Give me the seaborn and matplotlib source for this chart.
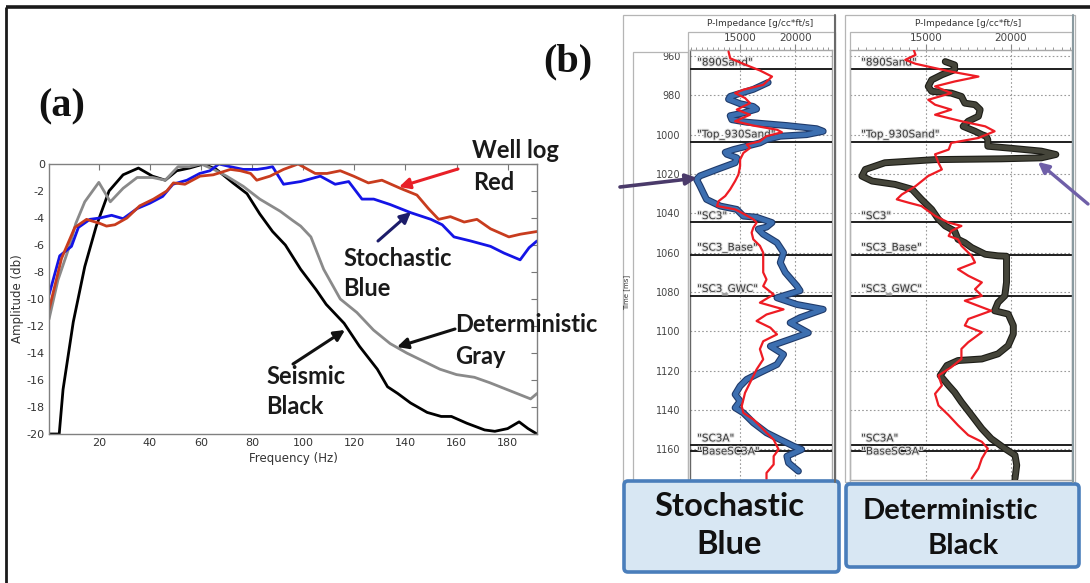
import matplotlib
matplotlib.use("Agg")
import matplotlib.pyplot as plt
import seaborn as sns
import numpy as np
from matplotlib.patches import Rectangle, FancyBboxPatch
from matplotlib.ticker import MultipleLocator
import matplotlib.patheffects as pe

# ---------------- data: panel (a) amplitude spectra ----------------
seis_f = [0.5, 4.5, 6, 10, 14.5, 19, 24, 29.5, 35.5, 41, 46, 50.5, 55.5, 61, 66, 72.5, 78, 83, 88, 93,
          99, 105, 109, 116, 122, 129, 133, 137, 142, 148.5, 154, 158, 164, 171, 175, 180, 184.5, 188, 191.5]
seis_a = [-20, -20, -16.7, -11.7, -7.6, -4.6, -2.0, -0.8, -0.3, -0.9, -1.2, -0.5, -0.3, 0.0, -0.4, -1.4,
          -2.2, -3.7, -5.0, -6.0, -7.8, -9.3, -10.4, -11.8, -13.5, -15.2, -16.5, -17.0, -17.7, -18.4,
          -18.7, -18.7, -19.2, -19.7, -19.8, -19.6, -19.1, -19.6, -20.0]

det_f = [0.5, 4, 8.5, 11, 14.5, 20, 24.5, 29.5, 35, 41, 46, 51, 55.5, 60, 65, 70, 76.5, 83, 91, 96,
         99, 103, 108, 114.5, 121, 127.5, 134, 140.5, 147, 153.5, 160, 167, 173, 181, 189, 191.5]
det_a = [-11.5, -8.6, -6.1, -4.4, -2.8, -1.36, -2.8, -1.8, -1.0, -1.0, -1.2, -0.2, -0.2, 0.0, -0.4, -0.9,
         -1.65, -2.6, -3.5, -4.2, -4.6, -5.4, -7.8, -10.0, -11.0, -12.3, -13.3, -14.0, -14.6, -15.2,
         -15.6, -15.8, -16.2, -16.8, -17.4, -17.0]

sto_f = [0.5, 4.7, 9.3, 12, 16.5, 20.4, 25, 29.5, 35, 40, 45, 49, 54.5, 59.5, 63.5, 67, 71.5, 76.5, 82,
         85.5, 88, 92.3, 99, 106.7, 112.5, 117.8, 123, 127.6, 134, 142, 150, 154.4, 159, 165.5, 173.3,
         178.6, 184.9, 188.4, 191.5]
sto_a = [-9.7, -6.8, -6.1, -4.7, -4.1, -4.0, -3.8, -4.05, -3.3, -2.9, -2.4, -1.5, -1.2, -0.7, -0.5, 0.0,
         -0.2, -0.4, -0.4, -0.3, -0.2, -1.5, -1.3, -0.9, -1.5, -1.3, -2.6, -2.6, -3.0, -3.6, -4.1, -4.5,
         -5.4, -5.7, -6.1, -6.6, -7.1, -6.2, -5.7]

well_f = [0.5, 5.4, 10.6, 15.2, 20.4, 23, 26.3, 31, 36, 41.4, 46.6, 49.2, 53.7, 59.6, 64.8, 71.5, 75.4,
          79.4, 81.8, 87, 92.3, 98, 104.7, 109.3, 114.5, 119.7, 125.5, 130.8, 138, 144.5, 149, 153,
          157.6, 163, 168, 173.3, 180.5, 185, 191.5]
well_a = [-10.8, -7.0, -4.7, -4.1, -4.4, -4.6, -4.5, -4.0, -3.1, -2.6, -2.0, -1.4, -1.5, -0.9, -0.8, -0.4,
          -0.5, -0.7, -1.2, -0.9, -0.4, 0.0, -0.7, -0.7, -0.5, -0.9, -1.4, -1.2, -1.8, -2.3, -3.3, -4.1,
          -3.9, -4.3, -4.1, -4.8, -5.4, -5.2, -5.0]

freq_ticks = [20, 40, 60, 80, 100, 120, 140, 160, 180]
amp_ticks = [0, -2, -4, -6, -8, -10, -12, -14, -16, -18, -20]

# ---------------- data: panel (b) impedance logs ----------------
stoch_t = [973.5, 977, 980.6, 982, 984.3, 985.7, 987, 989, 990.4, 992.4, 993.7, 995.4, 997, 998.3, 1000,
           1000.8, 1002.5, 1004.2, 1007.6, 1009, 1010, 1011.8, 1014.3, 1017.7, 1021, 1022.8, 1026, 1029.5,
           1032.9, 1036.3, 1038, 1041.4, 1042, 1044.7, 1047, 1048, 1050.6, 1054.9, 1060, 1065, 1070,
           1076.8, 1079.3, 1082.9, 1086.3, 1088.8, 1093, 1095.6, 1100.7, 1104, 1107.5, 1111.7, 1116.8,
           1121, 1124.4, 1127.8, 1132, 1135.4, 1138.8, 1141.4, 1146.4, 1151.5, 1155, 1158.3, 1160,
           1163.4, 1166.8, 1171]
stoch_v = [17550, 16200, 14100, 13950, 15000, 16200, 16500, 15300, 14100, 14250, 15600, 19250, 21950,
           22550, 21050, 18650, 17400, 16800, 14400, 13650, 13800, 14700, 14550, 12900, 11350, 11050,
           11350, 11650, 11950, 13200, 14700, 15300, 16500, 17900, 17400, 16650, 17100, 18350, 18950,
           18650, 19100, 20150, 20450, 18350, 20150, 22550, 20450, 19550, 21200, 19550, 17750, 18950,
           18350, 16800, 15600, 15000, 14550, 15000, 14550, 15300, 16200, 17400, 18650, 19850, 20600,
           19250, 19400, 20300]

well1_t = [957.8, 961.2, 963.7, 965.4, 967.4, 970.5, 974.7, 977.2, 978.9, 981.4, 984, 987.3, 989.9, 993.2,
           995.4, 997.5, 998.8, 1000.8, 1003.4, 1005, 1006.8, 1009.3, 1012.7, 1016, 1020.3, 1023.6,
           1027.8, 1031.2, 1033.8, 1036.3, 1038, 1039.7, 1043, 1044.7, 1047.3, 1049.8, 1053.2, 1056.5,
           1060, 1065, 1070, 1073.6, 1077, 1081.2, 1085.4, 1088.8, 1091.4, 1094.7, 1098.1, 1101.5, 1105,
           1109, 1114.2, 1119.3, 1124.4, 1131.2, 1138, 1141.4, 1144.7, 1148, 1151.5, 1155, 1160, 1163.4,
           1167.6, 1171.9, 1175]
well1_v = [13950, 14100, 15150, 15900, 16800, 17900, 17100, 15300, 14550, 15450, 15900, 14700, 15900,
           14550, 16200, 18350, 18800, 17400, 16800, 15600, 15900, 15300, 15000, 15000, 14850, 14550,
           14100, 13650, 13050, 12900, 14550, 15150, 16200, 16500, 16200, 16050, 16200, 16800, 17100,
           17100, 17100, 17400, 17100, 18050, 16800, 18950, 17400, 16500, 17750, 18350, 17100, 16800,
           17100, 16500, 16050, 15450, 15150, 15300, 16200, 16800, 17400, 18050, 18500, 18050, 18050,
           17400, 17400]

well2_t = [957, 959.5, 962, 964, 966.2, 968, 970.5, 973, 975.5, 978.9, 982.3, 984.8, 987.3, 989.9, 993.2,
           995.8, 998.3, 1001.7, 1004.2, 1007.6, 1010, 1014.3, 1017.7, 1021, 1026.2, 1030.4, 1032.9,
           1034.6, 1036.3, 1041.3, 1044.7, 1046.4, 1049, 1051.5, 1053.2, 1056.5, 1061.6, 1065, 1068.4,
           1071.7, 1075.1, 1078.5, 1081.9, 1084.4, 1089.5, 1093.7, 1097, 1100.4, 1105.5, 1108.9, 1114,
           1118.2, 1122.4, 1127.5, 1131.7, 1137.6, 1142.6, 1147.7, 1152.7, 1156.1, 1159.5, 1164.6,
           1169.6, 1174.7]
well2_v = [14300, 14400, 13800, 14400, 15550, 16500, 18100, 16700, 15550, 16500, 15150, 15550, 16500,
           15550, 17100, 18500, 19050, 18100, 16500, 16350, 15550, 15750, 15950, 15150, 14400, 13600,
           13300, 14000, 14750, 15550, 16350, 17100, 16500, 16350, 16900, 17100, 17700, 17900, 16900,
           17500, 18300, 17900, 18300, 17300, 18850, 17500, 17300, 18300, 17500, 17100, 17100, 16500,
           15750, 15950, 15550, 15750, 16350, 16900, 17500, 18300, 18650, 18300, 18100, 17700]

det_t = [962.9, 964.6, 967, 969.6, 972.2, 975.5, 978, 978.9, 980.6, 984, 984.8, 987.3, 990.7, 993.2,
         995.8, 998.3, 1000, 1000.8, 1002.5, 1005.9, 1006.8, 1008.4, 1010.1, 1011.8, 1012.3, 1012.7,
         1014.3, 1017.7, 1021.1, 1023.6, 1025.3, 1027.8, 1032.9, 1038, 1043, 1046.4, 1049, 1053.2, 1054.9,
         1057.4, 1060.8, 1061.6, 1061.8, 1066.7, 1075.1, 1081.9, 1085.3, 1089.5, 1091.2, 1097, 1101.3,
         1107.2, 1111.4, 1114, 1114.8, 1117.3, 1122.4, 1127.5, 1130.9, 1135.9, 1142.6, 1149.4, 1154.5,
         1159.5, 1162.9, 1168, 1174.7]
det_v = [16150, 16700, 16700, 15950, 15350, 15150, 15350, 16500, 17100, 17300, 17900, 18200, 18100,
         17500, 17200, 17900, 18300, 18550, 18650, 18650, 19850, 21800, 22650, 21800, 19450, 15550,
         12600, 11450, 11250, 11850, 13200, 14200, 14750, 15350, 15750, 16150, 16700, 16900, 17300,
         17700, 18500, 19250, 19750, 19750, 19750, 19650, 19250, 19050, 19850, 20150, 20150, 19850,
         19250, 18300, 16900, 16250, 15850, 16350, 16700, 17100, 17700, 18300, 18850, 19650, 20250,
         20350, 20250]

tops_names = ['"890Sand"', '"Top_930Sand"', '"SC3"', '"SC3_Base"', '"SC3_GWC"', '"SC3A"', '"BaseSC3A"']
tops_time = [966.5, 1003.5, 1044.5, 1061, 1082, 1157.5, 1161]
time_ticks = [960, 980, 1000, 1020, 1040, 1060, 1080, 1100, 1120, 1140, 1160]
imp_ticks = [15000, 20000]

# ---------------- figure ----------------
sns.set_style("white")
plt.rcParams['font.family'] = ['Lato', 'DejaVu Sans']

W, H = 1090, 583
fig = plt.figure(figsize=(W / 100, H / 100), dpi=100)


def rect(x0, y0, x1, y1):
    return [x0 / W, 1 - y1 / H, (x1 - x0) / W, (y1 - y0) / H]


narrow = ['Liberation Sans Narrow', 'DejaVu Sans']

# ---- panel (a)
ax = fig.add_axes(rect(49, 164, 537, 434))
lw_a = 2.0
sns.lineplot(x=seis_f, y=seis_a, ax=ax, sort=False, estimator=None, color='#000000', lw=lw_a)
sns.lineplot(x=det_f, y=det_a, ax=ax, sort=False, estimator=None, color='#8a8a8a', lw=lw_a)
sns.lineplot(x=sto_f, y=sto_a, ax=ax, sort=False, estimator=None, color='#1414e6', lw=lw_a)
sns.lineplot(x=well_f, y=well_a, ax=ax, sort=False, estimator=None, color='#c83c1e', lw=lw_a)
ax.set_xlim(0.5, 191.5)
ax.set_ylim(-20, 0)
ax.set_xticks(freq_ticks)
ax.set_yticks(amp_ticks)
ax.set_xticklabels([str(v) for v in freq_ticks], family=narrow, fontsize=8, color='#333333')
ax.set_yticklabels([str(v) for v in amp_ticks], family=narrow, fontsize=8, color='#333333')
ax.tick_params(direction='in', length=4, width=0.8, color='#777777', top=True, right=True, pad=3)
for s in ax.spines.values():
    s.set_color('#808080')
    s.set_linewidth(1.0)
ax.set_xlabel('Frequency (Hz)', family=narrow, fontsize=8.5, color='#333333', labelpad=3)
ax.set_ylabel('Amplitude (db)', family=narrow, fontsize=8.5, color='#333333', labelpad=2)


# ---- panel (b) tracks
def style_track(tax, xlim, show_time):
    tax.set_xlim(*xlim)
    tax.set_ylim(1175.5, 957)
    tax.xaxis.tick_top()
    tax.set_xticks(imp_ticks)
    tax.set_xticklabels([str(v) for v in imp_ticks], fontsize=7.5, color='#444444',
                        family=['DejaVu Sans'])
    tax.xaxis.set_minor_locator(MultipleLocator(500))
    tax.set_yticks(time_ticks)
    tax.grid(True, which='major', linestyle=(0, (1.5, 2)), color='#9a9a9a', lw=0.8)
    tax.tick_params(axis='x', which='major', direction='out', length=4, color='#888888', pad=1)
    tax.tick_params(axis='x', which='minor', direction='out', length=2.5, color='#888888')
    if show_time:
        tax.yaxis.set_minor_locator(MultipleLocator(2))
        tax.set_yticklabels([str(v) for v in time_ticks], fontsize=7, color='#444444',
                            family=['DejaVu Sans'])
        tax.tick_params(axis='y', which='major', direction='out', length=6, color='#666666', pad=1)
        tax.tick_params(axis='y', which='minor', direction='out', length=3, color='#888888')
    else:
        tax.set_yticklabels([])
        tax.tick_params(axis='y', which='both', length=0)
    for k, s in tax.spines.items():
        s.set_color('#a8a8a8')
        s.set_linewidth(1.0)
    if show_time:
        tax.spines['left'].set_color('#666666')
    tax.set_xlabel('')
    tax.set_ylabel('')
    tr = tax.get_yaxis_transform()
    for name, t in zip(tops_names, tops_time):
        tax.axhline(t, color='#1e1e1e', lw=1.4, zorder=3)
        va = 'center' if name == '"BaseSC3A"' else 'bottom'
        ty = t if name == '"BaseSC3A"' else t - 0.6
        tax.text(0.05, ty, name, transform=tr, fontsize=7.5, color='#3a3a3a', ha='left',
                 va=va, family=['DejaVu Sans'], zorder=4,
                 path_effects=[pe.withStroke(linewidth=1.5, foreground='#dddddd')])


axL = fig.add_axes(rect(690, 50, 832, 480))
sns.lineplot(x=stoch_v, y=stoch_t, ax=axL, sort=False, estimator=None, orient='y',
             color='#3d6fb0', lw=3.4, zorder=5,
             path_effects=[pe.Stroke(linewidth=5.0, foreground='#1f3a6a'), pe.Normal()])
sns.lineplot(x=well1_v, y=well1_t, ax=axL, sort=False, estimator=None, orient='y',
             color='#ee1c24', lw=1.6, zorder=6)
style_track(axL, (10450, 23350), True)

axR = fig.add_axes(rect(850, 50, 1072, 480))
sns.lineplot(x=det_v, y=det_t, ax=axR, sort=False, estimator=None, orient='y',
             color='#45453a', lw=3.4, zorder=5,
             path_effects=[pe.Stroke(linewidth=5.0, foreground='#1c1c16'), pe.Normal()])
sns.lineplot(x=well2_v, y=well2_t, ax=axR, sort=False, estimator=None, orient='y',
             color='#ee1c24', lw=1.6, zorder=6)
style_track(axR, (10550, 23600), False)

# ---- overlay for frames, labels, arrows, boxes
ov = fig.add_axes([0, 0, 1, 1])
ov.set_xlim(0, W)
ov.set_ylim(H, 0)
ov.axis('off')
ov.set_zorder(10)

ov.plot([6, W], [7, 7], color='#1a1a1a', lw=2.6, solid_capstyle='butt')
ov.plot([6, 6], [7, H], color='#1a1a1a', lw=2.0, solid_capstyle='butt')

# track frames
for (x0, y0, x1, y1) in [(623, 15, 835, 482), (688, 32, 835, 482), (633, 52, 688, 482),
                         (845, 15, 1075, 482), (850, 32, 1072, 482)]:
    ov.add_patch(Rectangle((x0, y0), x1 - x0, y1 - y0, fill=False, ec='#b5b5b5', lw=0.9))
ov.plot([835, 835], [15, 482], color='#6a6a6a', lw=1.5)
ov.plot([1073, 1073], [15, 482], color='#8a9aa0', lw=1.5)

ov.text(760, 23, 'P-Impedance [g/cc*ft/s]', fontsize=6.5, color='#333333', ha='center', va='center',
        family=['DejaVu Sans'])
ov.text(968, 23, 'P-Impedance [g/cc*ft/s]', fontsize=6.5, color='#333333', ha='center', va='center',
        family=['DejaVu Sans'])
ov.text(627, 292, 'Time [ms]', fontsize=5, color='#333333', ha='center', va='center', rotation=90,
        family=['DejaVu Sans'])

# panel labels
ov.text(62, 107, '(a)', fontsize=29, fontweight='bold', family=['Liberation Serif', 'DejaVu Serif'],
        ha='center', va='center', color='#111111')
ov.text(568, 62, '(b)', fontsize=29, fontweight='bold', family=['Liberation Serif', 'DejaVu Serif'],
        ha='center', va='center', color='#111111')

# annotations panel (a)
tk = dict(fontsize=17, fontweight='bold', color='#1a1a1a', ha='left', va='center')
ov.text(472, 150, 'Well log', **tk)
ov.text(473, 183, 'Red', **tk)
ov.text(343, 258, 'Stochastic', **tk)
ov.text(343, 289, 'Blue', **tk)
ov.text(455, 325, 'Deterministic', **tk)
ov.text(455, 356, 'Gray', **tk)
ov.text(266, 377, 'Seismic', **tk)
ov.text(266, 407, 'Black', **tk)


def arrow(tail, tip, color, lw=2.2, ms=16):
    ov.annotate('', xy=tip, xytext=tail,
                arrowprops=dict(arrowstyle='-|>', color=color, lw=lw, mutation_scale=ms,
                                shrinkA=0, shrinkB=0))


arrow((458, 169), (399, 187), '#e82028')
arrow((378, 241), (411, 212), '#1c1c6a')
arrow((455, 329), (397, 347), '#111111')
arrow((293, 364), (345, 330), '#111111')
arrow((620, 187), (697, 178), '#4a3a6a', lw=2.6)
arrow((1088, 204), (1038, 162), '#6f5fa8', lw=2.4)

# bottom boxes
ov.add_patch(FancyBboxPatch((624, 481), 215, 91, boxstyle='round,pad=0,rounding_size=4',
                            fc='#d8e7f3', ec='#4a7ebb', lw=2.6))
ov.add_patch(FancyBboxPatch((846, 484), 233, 83, boxstyle='round,pad=0,rounding_size=4',
                            fc='#d8e7f3', ec='#4a7ebb', lw=2.6))
bk = dict(fontweight='bold', color='#111111', ha='center', va='center')
ov.text(729, 506, 'Stochastic', fontsize=23.5, **bk)
ov.text(729, 544, 'Blue', fontsize=23.5, **bk)
ov.text(950, 511, 'Deterministic', fontsize=21, **bk)
ov.text(963, 546, 'Black', fontsize=21, **bk)

fig.savefig('out.png', dpi=100)
